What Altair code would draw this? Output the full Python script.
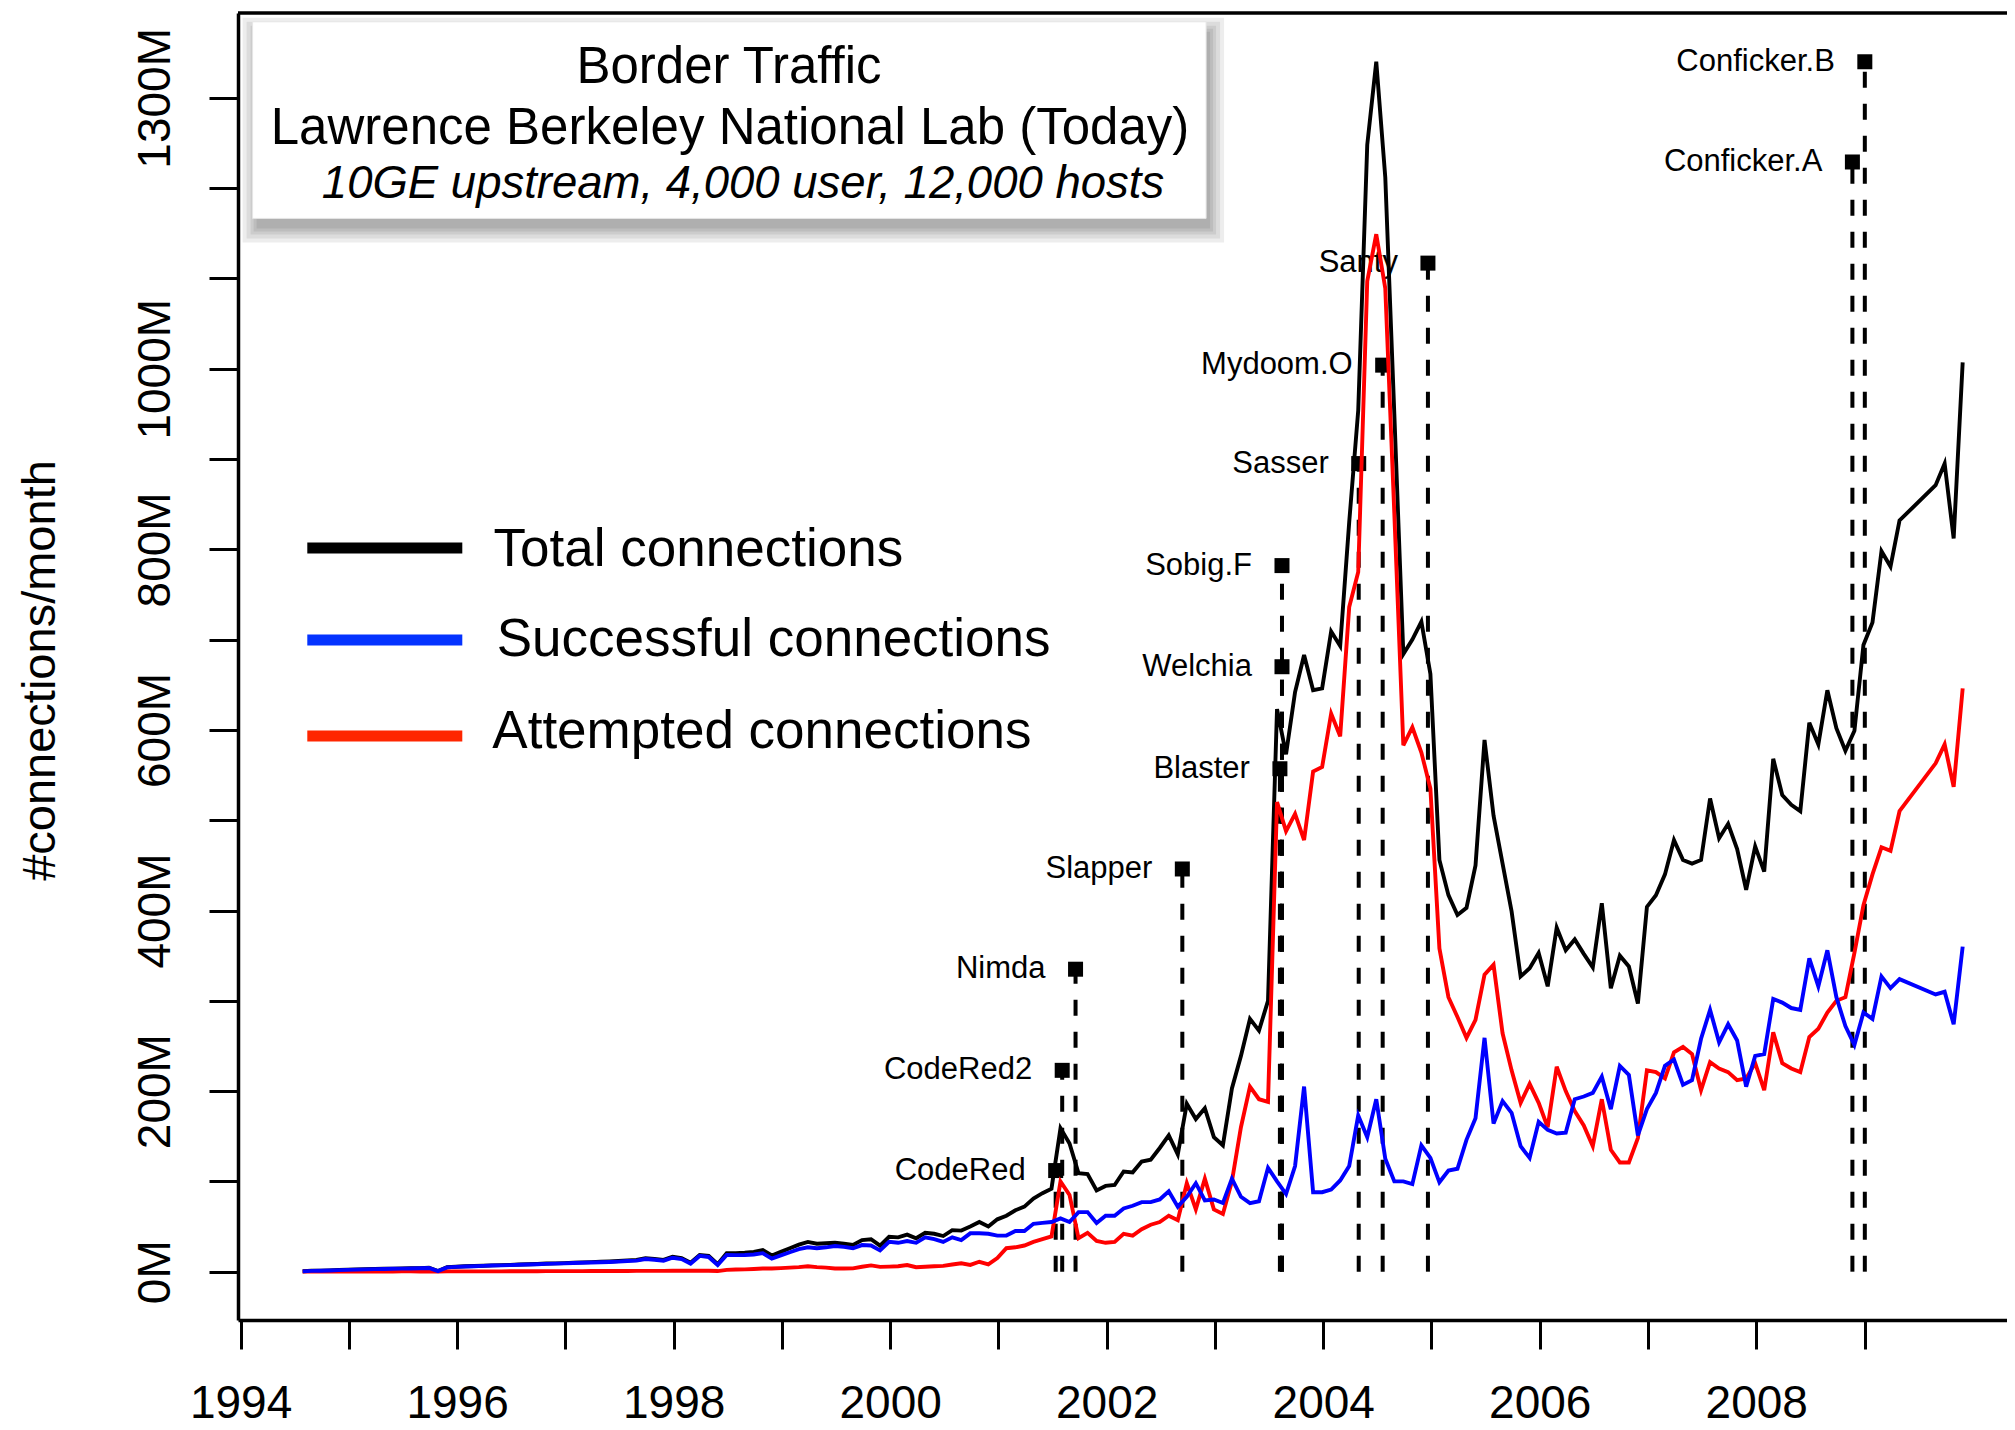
import datetime as dt
import json

import altair as alt
import pandas as pd

FONT = "Liberation Sans"

# ---------------- data (million connections / month) ----------------
first_year, first_month = 1994, 7  # first monthly value = July 1994

total_conn = [
    0.5, 1.0, 1.2, 1.5, 1.8, 2.2,                                   # 1994 Jul-Dec
    2.5, 2.8, 3.0, 3.2, 3.4, 3.6, 3.8, 4.0, 4.3, 0.8, 5.0, 5.5,     # 1995
    6.0, 6.3, 6.6, 7.0, 7.3, 7.6, 8.0, 8.3, 8.6, 9.0, 9.2, 9.5,     # 1996
    10.0, 10.3, 10.6, 11.0, 11.3, 11.8, 12.5, 13.0, 14.8, 14.0, 13.0, 16.5,  # 1997
    15.0, 10.0, 18.5, 17.4, 8.2, 20.4, 20.5, 21.0, 22.0, 24.0, 18.0, 22.0,   # 1998
    26.0, 30.0, 33.0, 31.0, 31.5, 32.0, 31.0, 29.6, 35.0, 36.0, 28.8, 38.6,  # 1999
    38, 41, 37, 43, 42, 39.5, 46, 45.5, 50, 55, 50, 58,             # 2000
    62, 68, 72, 81, 87, 92, 159, 142, 109, 108, 90, 95,             # 2001
    96, 111, 110, 122, 124, 137, 151, 130, 186, 169, 181, 149,      # 2002
    140, 203, 239, 280, 267, 300, 623, 573, 642, 683, 644, 646,     # 2003
    709, 693, 830, 954, 1248, 1340, 1212, 950, 684, 700, 720, 662,  # 2004
    456, 417, 395, 403, 450, 589, 505, 452, 399, 327, 336, 353,     # 2005
    316, 381, 356, 368, 352, 337, 408, 314, 350, 338, 297, 404,     # 2006
    417, 440, 478, 456, 452, 456, 524, 480, 496, 468, 423, 471,     # 2007
    443, 568, 528, 517, 510, 608, 584, 644, 602, 577, 599, 694,     # 2008
    719, 798, 781, 832, None, None, None, 871, 895, 812, 1007,      # 2009 Jan-Nov
]

successful_conn = [
    0.4, 0.9, 1.1, 1.4, 1.7, 2.0,                                   # 1994 Jul-Dec
    2.3, 2.6, 2.8, 3.0, 3.2, 3.4, 3.6, 3.8, 4.1, 0.6, 4.8, 5.3,     # 1995
    5.8, 6.1, 6.4, 6.8, 7.0, 7.3, 7.7, 8.0, 8.3, 8.7, 8.9, 9.2,     # 1996
    9.6, 9.9, 10.2, 10.5, 10.8, 11.2, 11.8, 12.2, 14.0, 13.2, 12.2, 15.5,    # 1997
    14.0, 9.0, 17.5, 16.3, 7.5, 18.5, 18.3, 18.5, 19.0, 20.5, 14.5, 18.0,    # 1998
    21.5, 25.0, 27.0, 26.0, 27.0, 28.5, 27.5, 26.0, 29.5, 29.0, 23.5, 33.0,  # 1999
    32, 34, 32, 38, 36, 33, 38, 35, 42.5, 42.5, 42, 40,             # 2000
    40, 45, 45, 53, 54, 55, 59, 55, 66, 66, 54, 62,                 # 2001
    62, 70, 73, 77, 77, 80, 89, 72, 83, 98, 79, 80,                 # 2002
    76, 103, 83, 76, 78, 115, 100, 86, 117, 205, 88, 88,            # 2003
    91, 101, 117, 173, 149, 191, 125, 100, 100, 97, 140, 126,       # 2004
    99, 112, 114, 146, 170, 259, 164, 189, 176, 139, 126, 166,      # 2005
    157, 153, 154, 191, 194, 198, 216, 180, 228, 218, 151, 180,     # 2006
    198, 228, 235, 207, 212, 258, 290, 254, 274, 256, 205, 239,     # 2007
    241, 302, 298, 292, 290, 347, 316, 356, 304, 272, 251, 287,     # 2008
    280, 327, 314, 324, None, None, None, 307, 310, 274, 360,       # 2009 Jan-Nov
]

attempted_conn = [
    0.1, 0.1, 0.1, 0.1, 0.1, 0.2,                                   # 1994 Jul-Dec
    0.2, 0.2, 0.2, 0.2, 0.2, 0.3, 0.3, 0.2, 0.2, 0.2, 0.3, 0.3,     # 1995
    0.3, 0.3, 0.4, 0.4, 0.4, 0.5, 0.5, 0.5, 0.5, 0.6, 0.6, 0.6,     # 1996
    0.6, 0.6, 0.7, 0.7, 0.8, 0.8, 0.8, 0.9, 0.9, 0.9, 0.9, 1.0,     # 1997
    1.0, 1.0, 1.0, 1.1, 0.7, 2.0, 2.5, 2.6, 3.0, 3.5, 3.5, 4.0,     # 1998
    4.5, 5.0, 6.0, 5.0, 4.5, 3.5, 3.5, 3.7, 5.5, 7.0, 5.3, 5.6,     # 1999
    6, 7.4, 5, 5.5, 6, 6.5, 8, 9.3, 7.5, 11, 8, 15,                 # 2000
    26, 27, 29, 33, 36, 39, 100, 85, 37, 43, 34, 32,                # 2001
    33, 42, 40, 47, 52, 55, 62, 57, 98, 69, 103, 69,                # 2002
    64, 100, 160, 205, 191, 188, 520, 488, 507, 478, 554, 559,      # 2003
    618, 593, 736, 775, 1097, 1149, 1089, 840, 583, 603, 575, 535,  # 2004
    358, 304, 282, 259, 279, 329, 340, 264, 223, 187, 208, 187,     # 2005
    160, 227, 200, 178, 162, 139, 191, 135, 121, 121, 148, 223,     # 2006
    221, 214, 243, 249, 241, 201, 232, 225, 221, 212, 214, 231,     # 2007
    201, 265, 231, 225, 221, 260, 269, 287, 300, 304, 353, 406,     # 2008
    440, 470, 466, 510, None, None, None, 563, 584, 537, 646,       # 2009 Jan-Nov
]

series_names = ["Total connections", "Successful connections", "Attempted connections"]
series_colors = ["#000000", "#0000ff", "#ff0000"]
legend_colors = ["#000000", "#0433ff", "#ff2600"]

worm_names = ["CodeRed", "CodeRed2", "Nimda", "Slapper", "Blaster", "Welchia",
              "Sobig.F", "Sasser", "Mydoom.O", "Santy", "Conficker.A", "Conficker.B"]
worm_dates = ["2001-07-13", "2001-08-04", "2001-09-18", "2002-09-13", "2003-08-08", "2003-08-15",
              "2003-08-15", "2004-04-30", "2004-07-20", "2004-12-20", "2008-11-21", "2009-01-02"]
worm_levels = [112, 223, 335, 446, 557, 670, 782, 895, 1004, 1117, 1229, 1340]

x_tick_years = list(range(1994, 2010))
x_label_years = [1994, 1996, 1998, 2000, 2002, 2004, 2006, 2008]
y_tick_values = list(range(0, 1400, 100))
y_label_values = [0, 200, 400, 600, 800, 1000, 1300]

title_lines = ["Border Traffic",
               "Lawrence Berkeley National Lab (Today)",
               "10GE upstream, 4,000 user, 12,000 hosts"]

# ---------------- tables ----------------
def month_position(i):
    idx = first_year * 12 + (first_month - 1) + i
    yr, m0 = divmod(idx, 12)
    return yr + (m0 + 1) / 12.0 - 0.01


rows = []
for name, vals in zip(series_names, [total_conn, successful_conn, attempted_conn]):
    for i, v in enumerate(vals):
        if v is not None:
            rows.append({"year": month_position(i), "value": v, "series": name})
df = pd.DataFrame(rows)


def decimal_year(s):
    d = dt.date.fromisoformat(s)
    start = dt.date(d.year, 1, 1)
    days = (dt.date(d.year + 1, 1, 1) - start).days
    return d.year + (d - start).days / days


worms = pd.DataFrame({
    "name": worm_names,
    "year": [decimal_year(s) for s in worm_dates],
    "level": worm_levels,
    "base": [0] * len(worm_names),
})

one = pd.DataFrame({"k": [0]})

# ---------------- scales / axes ----------------
W, H = 1769, 1307
xscale = alt.Scale(domain=[1993.976, 2010.316], nice=False, zero=False)
yscale = alt.Scale(domain=[-53.5, 1394], nice=False, zero=False)

xaxis = alt.Axis(
    values=x_tick_years,
    labelExpr=f"indexof({json.dumps(x_label_years)}, datum.value) >= 0 ? '' + datum.value : ''",
    tickSize=29, tickWidth=3, tickColor="black",
    domainWidth=3.5, domainColor="black",
    labelFont=FONT, labelFontSize=46, labelColor="black",
    labelPadding=68, labelBaseline="alphabetic", labelAngle=0,
    labelOverlap=False, labelFlush=False, grid=False, title=None,
)
yaxis = alt.Axis(
    values=y_tick_values,
    labelExpr=f"indexof({json.dumps(y_label_values)}, datum.value) >= 0 ? datum.value + 'M' : ''",
    tickSize=29, tickWidth=3, tickColor="black",
    domainWidth=3.5, domainColor="black",
    labelFont=FONT, labelFontSize=46, labelColor="black",
    labelAngle=270, labelAlign="center", labelBaseline="alphabetic", labelPadding=40,
    labelOverlap=False, grid=False,
    title="#connections/month", titleFont=FONT, titleFontSize=47, titleFontWeight="normal",
    titleColor="black", titleAngle=270, titleAlign="center", titleBaseline="alphabetic",
    titleX=-184, titleY=657,
)

X = alt.X("year:Q", scale=xscale, axis=xaxis)
Y = alt.Y("value:Q", scale=yscale, axis=yaxis)

layers = []

# title box shadow + box
bx0, bx1, by0, by1 = 14.6, 968.1, 8.8, 205.4
for g in [14, 10, 6, 3, 0]:
    layers.append(
        alt.Chart(one).mark_rect(color="black", opacity=0.07).encode(
            x=alt.value(bx0 + 4 - g), x2=alt.value(bx1 + 4 + g),
            y=alt.value(by0 + 10 - g), y2=alt.value(by1 + 10 + g),
        )
    )
layers.append(
    alt.Chart(one).mark_rect(color="white", stroke="#e6e6e6", strokeWidth=1).encode(
        x=alt.value(bx0), x2=alt.value(bx1), y=alt.value(by0), y2=alt.value(by1)
    )
)
title_specs = [(491, 69.8, 51, "normal"), (492, 131.1, 51, "normal"), (505, 185.4, 45.5, "italic")]
for txt, (tx, ty, fs, st) in zip(title_lines, title_specs):
    layers.append(
        alt.Chart(one).mark_text(align="center", baseline="alphabetic", font=FONT,
                                 fontSize=fs, fontStyle=st, color="black").encode(
            x=alt.value(tx), y=alt.value(ty), text=alt.value(txt)
        )
    )

# worm annotations
layers.append(
    alt.Chart(worms).mark_rule(color="black", strokeWidth=4, strokeDash=[16, 16]).encode(
        x=alt.X("year:Q", scale=xscale, axis=xaxis),
        y=alt.Y("base:Q", scale=yscale, axis=yaxis),
        y2="level:Q",
    )
)
layers.append(
    alt.Chart(worms).mark_text(align="right", baseline="middle", dx=-30, font=FONT,
                               fontSize=31, color="black").encode(
        x=alt.X("year:Q", scale=xscale, axis=xaxis),
        y=alt.Y("level:Q", scale=yscale, axis=yaxis),
        text="name:N",
    )
)
layers.append(
    alt.Chart(worms).mark_square(size=225, color="black", opacity=1).encode(
        x=alt.X("year:Q", scale=xscale, axis=xaxis),
        y=alt.Y("level:Q", scale=yscale, axis=yaxis),
    )
)

# data lines: black, red, blue (z-order as in the reference)
for name, color in [(series_names[0], series_colors[0]),
                    (series_names[2], series_colors[2]),
                    (series_names[1], series_colors[1])]:
    layers.append(
        alt.Chart(df).transform_filter(alt.datum.series == name)
        .mark_line(color=color, strokeWidth=3.9)
        .encode(x=X, y=Y)
    )

# legend
legend_line_y = [535.1, 627.1, 723.1]
legend_text_x = [255.6, 258.7, 254.3]
legend_text_y = [553.1, 643.1, 735.1]
for name, color, ly, tx, ty in zip(series_names, legend_colors, legend_line_y, legend_text_x, legend_text_y):
    layers.append(
        alt.Chart(one).mark_rule(color=color, strokeWidth=11).encode(
            x=alt.value(69.3), x2=alt.value(224.3), y=alt.value(ly)
        )
    )
    layers.append(
        alt.Chart(one).mark_text(align="left", baseline="alphabetic", font=FONT,
                                 fontSize=53, color="black").encode(
            x=alt.value(tx), y=alt.value(ty), text=alt.value(name)
        )
    )

# top frame line
layers.append(
    alt.Chart(one).mark_rule(color="black", strokeWidth=3.5).encode(
        x=alt.value(0), x2=alt.value(W), y=alt.value(0)
    )
)

chart = (
    alt.layer(*layers)
    .properties(
        width=W, height=H,
        autosize=alt.AutoSizeParams(type="none"),
        padding={"left": 230, "top": 5, "right": 0, "bottom": 110},
        background="white",
    )
    .configure_view(stroke="transparent")
    .configure(font=FONT)
)

chart.save("out.html", embed_options={"renderer": "svg", "actions": False})
